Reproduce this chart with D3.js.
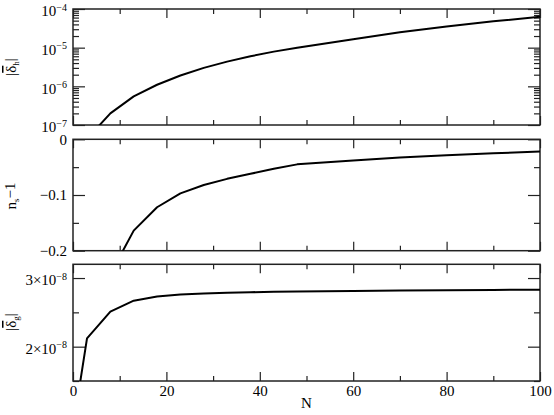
<!DOCTYPE html>
<html><head><meta charset="utf-8">
<script src="https://cdn.jsdelivr.net/npm/d3@7"></script>
<style>body{margin:0;background:#fff}svg{display:block}</style>
</head><body><svg id="c" width="554" height="415" font-family="'Liberation Serif', 'DejaVu Serif', serif"></svg>
<script>
// Data
const N        = [1, 3, 8, 13, 18, 23, 28, 33, 38, 43, 48, 60, 70, 80, 90, 100];
const deltaH   = [1.0e-8, 4.4e-8, 2.0e-7, 5.5e-7, 1.1e-6, 1.9e-6, 3.0e-6, 4.35e-6, 6.0e-6, 7.9e-6, 1.0e-5, 1.66e-5, 2.5e-5, 3.55e-5, 4.8e-5, 6.3e-5];
const nsMinus1 = [-1.0, -0.45, -0.242, -0.164, -0.122, -0.097, -0.082, -0.071, -0.062, -0.053, -0.045, -0.038, -0.0325, -0.0285, -0.0252, -0.022];
const deltaG   = [1.25e-8, 2.12e-8, 2.51e-8, 2.67e-8, 2.73e-8, 2.76e-8, 2.775e-8, 2.785e-8, 2.793e-8, 2.80e-8, 2.805e-8, 2.812e-8, 2.818e-8, 2.823e-8, 2.827e-8, 2.83e-8];
const xTicks   = [0, 20, 40, 60, 80, 100];
const xMinor   = [10, 30, 50, 70, 90];
const hTicks   = [-7, -6, -5, -4];           // exponents
const nsTicks  = [0, -0.1, -0.2];
const nsMinor  = [-0.05, -0.15];
const gTicks   = [2e-8, 3e-8];
const gMinor   = [1.5e-8, 2.5e-8];

const FONT = "'Liberation Serif', 'DejaVu Serif', serif";
const svg = d3.select("#c");
const L = 73, R = 540;
const x = d3.scaleLinear().domain([0, 100]).range([L, R]);

const panels = [
  {top: 9,     bot: 125,   y: d3.scaleLog().domain([1e-7, 1e-4]), vals: deltaH},
  {top: 139.3, bot: 250.7, y: d3.scaleLinear().domain([-0.2, 0]), vals: nsMinus1},
  {top: 264.3, bot: 381,   y: d3.scaleLinear().domain([1.5e-8, 3.2e-8]), vals: deltaG}
];

function supLabel(sel, base, exp) {
  sel.text(null);
  sel.append("tspan").text(base);
  sel.append("tspan").attr("dy", "-0.55em").attr("font-size", "10px").text(exp);
}

panels.forEach((p, i) => {
  p.y.range([p.bot, p.top]);
  const g = svg.append("g");
  const cid = "clip" + i;
  svg.append("clipPath").attr("id", cid).append("rect")
    .attr("x", L).attr("y", p.top).attr("width", R - L).attr("height", p.bot - p.top);

  const style = gg => {
    gg.attr("font-family", FONT);
    gg.select(".domain").remove();
    gg.selectAll("line").attr("stroke", "#222").attr("stroke-width", 1.2);
    gg.selectAll("text").attr("font-size", "15px").attr("fill", "#000").attr("font-family", FONT);
  };
  const mk = (axisFn, pos, ticks, size, labels) => {
    const a = axisFn(x).tickValues(ticks).tickSize(-size).tickPadding(labels ? 4 : 0);
    if (!labels) a.tickFormat("");
    const gg = g.append("g").attr("transform", `translate(0,${pos})`).call(a);
    style(gg);
    return gg;
  };
  mk(d3.axisBottom, p.bot, xTicks, 9, i === 2);
  mk(d3.axisBottom, p.bot, xMinor, 5, false);
  mk(d3.axisTop, p.top, xTicks, 9, false);
  mk(d3.axisTop, p.top, xMinor, 5, false);

  let major, minor;
  if (i === 0) {
    major = hTicks.map(e => Math.pow(10, e));
    minor = p.y.ticks().filter(v => !major.some(m => Math.abs(m - v) / v < 1e-6));
  } else if (i === 1) { major = nsTicks; minor = nsMinor; }
  else { major = gTicks; minor = gMinor; }

  const ymk = (axisFn, pos, ticks, size, labels) => {
    const a = axisFn(p.y).tickValues(ticks).tickSize(-size).tickPadding(6);
    if (!labels) a.tickFormat(() => "");
    const gg = g.append("g").attr("transform", `translate(${pos},0)`).call(a);
    style(gg);
    return gg;
  };
  const labs = ymk(d3.axisLeft, L, major, 12, true);
  ymk(d3.axisLeft, L, minor, 6, false);
  ymk(d3.axisRight, R, major, 12, false);
  ymk(d3.axisRight, R, minor, 6, false);
  if (i === 0) {
    labs.selectAll("text").each(function(d) {
      supLabel(d3.select(this), "10", "\u2212" + (-Math.round(Math.log10(d))));
    });
    labs.selectAll("text").attr("dy", "0.45em");
  } else if (i === 1) {
    labs.selectAll("text").text(d => d === 0 ? "0" : "\u2212" + Math.abs(d).toFixed(1));
  } else {
    labs.selectAll("text").each(function(d) {
      supLabel(d3.select(this), Math.round(d * 1e8) + "\u00d710", "\u22128");
    });
    labs.selectAll("text").attr("dy", "0.45em");
  }

  g.append("rect").attr("x", L).attr("y", p.top).attr("width", R - L).attr("height", p.bot - p.top)
    .attr("fill", "none").attr("stroke", "#222").attr("stroke-width", 1.5);

  const line = d3.line().x((d, k) => x(N[k])).y(d => p.y(d));
  g.append("path").datum(p.vals).attr("clip-path", `url(#${cid})`)
    .attr("d", line).attr("fill", "none").attr("stroke", "#000").attr("stroke-width", 2)
    .attr("stroke-linejoin", "round");
});

function ytitle(cx, cy, build) {
  const t = svg.append("text").attr("transform", `translate(${cx},${cy}) rotate(-90)`)
    .attr("text-anchor", "middle").attr("font-size", "15px").attr("font-family", FONT);
  build(t);
}
ytitle(16, 67, t => {
  t.append("tspan").text("|");
  t.append("tspan").attr("text-decoration", "overline").text("\u03b4");
  t.append("tspan").attr("font-size", "9px").attr("dy", "0.35em").text("h");
  t.append("tspan").attr("dy", "-0.25em").text("|");
});
ytitle(16, 196, t => {
  t.append("tspan").text("n");
  t.append("tspan").attr("font-size", "9px").attr("dy", "0.35em").text("s");
  t.append("tspan").attr("dy", "-0.25em").text("\u22121");
});
ytitle(16, 322, t => {
  t.append("tspan").text("|");
  t.append("tspan").attr("text-decoration", "overline").text("\u03b4");
  t.append("tspan").attr("font-size", "9px").attr("dy", "0.35em").text("g");
  t.append("tspan").attr("dy", "-0.25em").text("|");
});

svg.append("text").attr("x", (L + R) / 2).attr("y", 408).attr("text-anchor", "middle")
  .attr("font-size", "15px").attr("font-family", FONT).text("N");
</script></body></html>
